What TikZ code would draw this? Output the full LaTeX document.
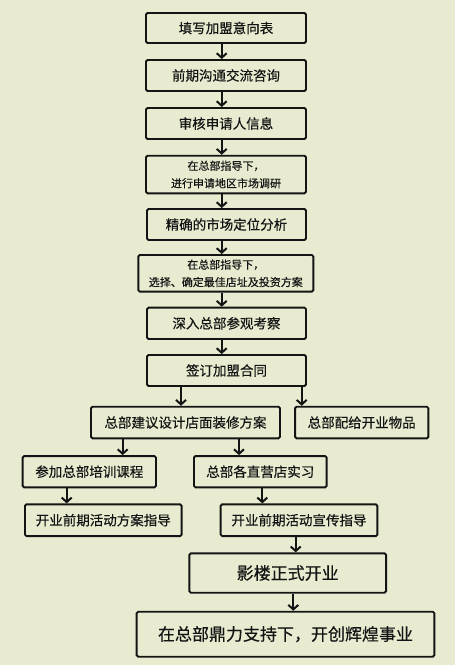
\documentclass[tikz,border=0pt]{standalone}
\usepackage{fontspec}
\setmainfont{Noto Sans CJK SC}[FakeBold=0.35]
\usetikzlibrary{arrows.meta}
\definecolor{bg}{RGB}{232,235,208}
\definecolor{ink}{RGB}{20,20,20}
\tikzset{
  box/.style={draw=ink, line width=1.9pt, rounded corners=1.5pt, fill=bg, inner sep=0pt, align=center, text=ink, font=\fontsize{13.5pt}{16pt}\selectfont},
  smallbox/.style={box, font=\fontsize{11pt}{17.5pt}\selectfont},
  bigbox/.style={box, font=\fontsize{17pt}{20pt}\selectfont},
  arr/.style={draw=ink, line width=2pt, -{Straight Barb[length=4.5pt,width=10pt,line width=2pt]}}
}
\begin{document}
\begin{tikzpicture}[x=1pt,y=-1pt]
\fill[bg] (0,0) rectangle (455,665);
\useasboundingbox (0,0) rectangle (455,665);
\node[box, minimum width=160pt, minimum height=30pt] (b1) at (226,28) {填写加盟意向表};
\node[box, minimum width=160pt, minimum height=31pt] (b2) at (226,75.5) {前期沟通交流咨询};
\node[box, minimum width=160pt, minimum height=31pt] (b3) at (226,123.5) {审核申请人信息};
\node[smallbox, minimum width=160pt, minimum height=37.6pt] (b4) at (226,174.5) {在总部指导下，\\进行申请地区市场调研};
\node[box, minimum width=159pt, minimum height=31pt] (b5) at (226.5,224.5) {精确的市场定位分析};
\node[smallbox, minimum width=175pt, minimum height=36.7pt] (b6) at (225.8,273.3) {在总部指导下，\\选择、确定最佳店址及投资方案};
\node[box, minimum width=159pt, minimum height=31.3pt] (b7) at (226.5,323.3) {深入总部参观考察};
\node[box, minimum width=159pt, minimum height=31pt] (b8) at (226.5,370.5) {签订加盟合同};
\node[box, minimum width=189pt, minimum height=31.6pt] (b9) at (185.5,422.5) {总部建议设计店面装修方案};
\node[box, minimum width=133.3pt, minimum height=31.6pt] (b10) at (361.7,422.5) {总部配给开业物品};
\node[box, minimum width=133.3pt, minimum height=31.3pt] (b11) at (89.3,471.7) {参加总部培训课程};
\node[box, minimum width=132.7pt, minimum height=31.3pt] (b12) at (260.3,471.7) {总部各直营店实习};
\node[box, minimum width=156.7pt, minimum height=31.7pt] (b13) at (103.3,520.2) {开业前期活动方案指导};
\node[box, minimum width=156.7pt, minimum height=31.7pt] (b14) at (299,520.2) {开业前期活动宣传指导};
\node[bigbox, minimum width=196.7pt, minimum height=39.4pt] (b15) at (287.7,573) {影楼正式开业};
\node[bigbox, minimum width=297.7pt, minimum height=45pt] (b16) at (285.5,634.2) {在总部鼎力支持下，开创辉煌事业};
\coordinate (xa) at (221.7,0);
\coordinate (xb) at (181,0);
\coordinate (xc) at (301.7,0);
\coordinate (xd) at (122.7,0);
\coordinate (xe) at (239,0);
\coordinate (xf) at (66.7,0);
\coordinate (xg) at (262.3,0);
\coordinate (xh) at (295.7,0);
\coordinate (xi) at (293.3,0);
\draw[arr] (b1.south -| xa) -- (b2.north -| xa);
\draw[arr] (b2.south -| xa) -- (b3.north -| xa);
\draw[arr] (b3.south -| xa) -- (b4.north -| xa);
\draw[arr] (b4.south -| xa) -- (b5.north -| xa);
\draw[arr] (b5.south -| xa) -- (b6.north -| xa);
\draw[arr] (b6.south -| xa) -- (b7.north -| xa);
\draw[arr] (b7.south -| xa) -- (b8.north -| xa);
\draw[arr] (b8.south -| xb) -- (b9.north -| xb);
\draw[arr] (b8.south -| xc) -- (b10.north -| xc);
\draw[arr] (b9.south -| xd) -- (b11.north -| xd);
\draw[arr] (b9.south -| xe) -- (b12.north -| xe);
\draw[arr] (b11.south -| xf) -- (b13.north -| xf);
\draw[arr] (b12.south -| xg) -- (b14.north -| xg);
\draw[arr] (b14.south -| xh) -- (b15.north -| xh);
\draw[arr] (b15.south -| xi) -- (b16.north -| xi);
\end{tikzpicture}
\end{document}
